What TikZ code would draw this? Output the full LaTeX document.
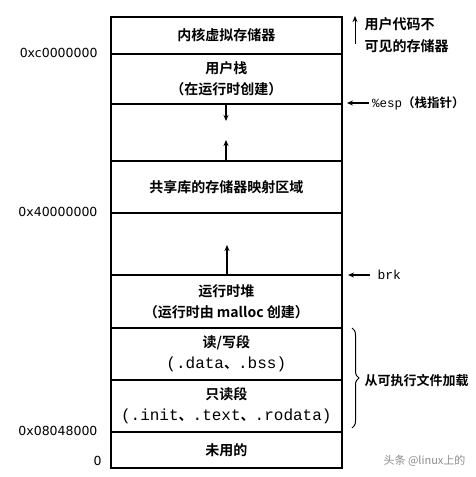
\documentclass[tikz,border=0pt]{standalone}
\usepackage{fontspec}
\newfontfamily\cjk{Noto Sans CJK SC}[BoldFont={Noto Sans CJK SC Bold}]
\newfontfamily\mono{Liberation Mono}
\newfontfamily\hexf{DejaVu Sans}
\usetikzlibrary{arrows.meta,decorations.pathreplacing}
\newcommand\mt[1]{{\mono\mdseries\fontsize{16}{20}\selectfont #1}}
\begin{document}
\begin{tikzpicture}[x=1pt,y=-1pt,
  seg/.style={draw,line width=1.6pt,anchor=north west,minimum width=231pt,inner sep=0pt,align=center,font=\cjk\bfseries\fontsize{14}{21}\selectfont},
  addr/.style={anchor=east,font=\hexf\fontsize{12.5}{14}\selectfont},
  arr/.style={-{Stealth[length=6pt,width=5pt]},line width=1.3pt},
  note/.style={anchor=west,align=left,font=\cjk\bfseries\fontsize{14}{22}\selectfont}]
\useasboundingbox (0,0) rectangle (476,477);
\fill[white] (0,0) rectangle (476,477);
\node[seg,minimum height=37pt] (kernel) at (110,16) {内核虚拟存储器};
\node[seg,minimum height=50pt] (stack) at (110,53) {用户栈\\（在运行时创建）};
\node[seg,minimum height=57pt] (gap1) at (110,103) {};
\node[seg,minimum height=52pt] (shlib) at (110,160) {共享库的存储器映射区域};
\node[seg,minimum height=62pt] (gap2) at (110,212) {};
\node[seg,minimum height=53pt] (heap) at (110,274) {运行时堆\\（运行时由 malloc 创建）};
\node[seg,minimum height=52pt] (rw) at (110,327) {读/写段\\\mt{(.data}、\mt{.bss)}};
\node[seg,minimum height=52pt] (ro) at (110,379) {只读段\\\mt{(.init}、\mt{.text}、\mt{.rodata)}};
\node[seg,minimum height=36pt] (unused) at (110,431) {未用的};
% internal arrows
\coordinate (d1) at (226,121);
\coordinate (u1) at (226,140);
\coordinate (u2) at (227,245);
\draw[arr] (gap1.north -| d1) -- (d1);
\draw[arr] (gap1.south -| u1) -- (u1);
\draw[arr] (gap2.south -| u2) -- (u2);
% addresses
\node[addr] (a1) at (101,53) {0xc0000000};
\node[addr] (a2) at (101,212) {0x40000000};
\node[addr] (a3) at (101,431) {0x08048000};
\node[addr] (a0) at (105,461) {0};
% right notes
\coordinate (k1) at (355,44);
\coordinate (k2) at (355,16);
\draw[arr,line width=1pt] (k1) -- (k2);
\node[note] (kn) at (361,35) {用户代码不\\可见的存储器};
\coordinate (e1) at (369,103);
\coordinate (e2) at (347,103);
\draw[arr] (e1) -- (e2);
\node[anchor=west,inner sep=1pt,font=\cjk\bfseries\fontsize{12.5}{20}\selectfont] (esp) at (371,103) {{\mono\mdseries\fontsize{12.5}{16}\selectfont\%esp}（栈指针）};
\coordinate (b1) at (370,275);
\coordinate (b2) at (348,275);
\draw[arr] (b1) -- (b2);
\node[anchor=west,font=\mono\fontsize{13}{14}\selectfont] (brk) at (374,275) {brk};
\draw[line width=1pt,decorate,decoration={brace,amplitude=7pt}] (352,328) -- (352,428);
\node[anchor=west,font=\cjk\bfseries\fontsize{13}{20}\selectfont] (load) at (361,381) {从可执行文件加载};
\node[anchor=west,text=black!45,font=\cjk\fontsize{11}{13}\selectfont] (wm) at (380,461) {头条 @linux上的};
\end{tikzpicture}
\end{document}
